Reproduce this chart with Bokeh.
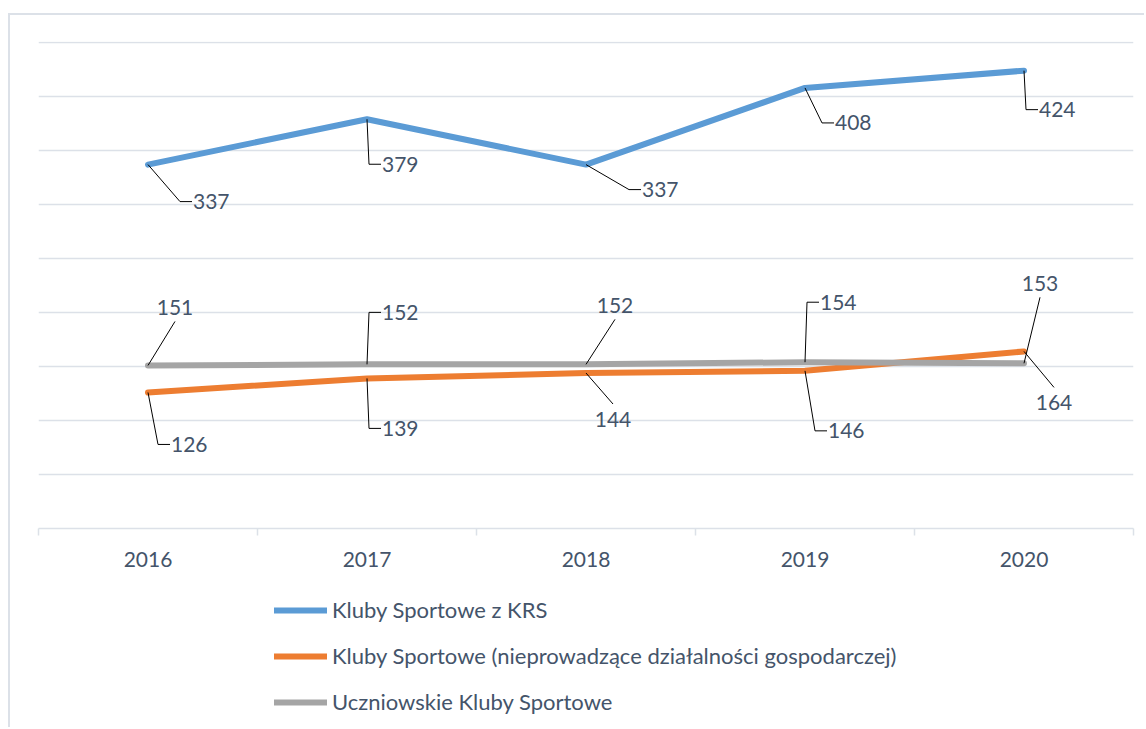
from bokeh.plotting import figure
from bokeh.layouts import column
from bokeh.models import FixedTicker, Legend, LegendItem, ColumnDataSource, Range1d
from bokeh.embed import file_html
from bokeh.resources import INLINE
from bokeh.core.properties import value

# ---- data ----
years = ["2016", "2017", "2018", "2019", "2020"]
krs = [337, 379, 337, 408, 424]
nieprow = [126, 139, 144, 146, 164]
uczniowskie = [151, 152, 152, 154, 153]
series_names = [
    "Kluby Sportowe z KRS",
    "Kluby Sportowe (nieprowadzące działalności gospodarczej)",
    "Uczniowskie Kluby Sportowe",
]
grid_values = [50, 100, 150, 200, 250, 300, 350, 400, 450]

# ---- style ----
colors = ["#5B9BD5", "#ED7D31", "#A5A5A5"]
TXT = "#44546A"
GRID = "#DCE1E8"
FONT = "Lato"
FS = "21px"
LEG_FS = "22px"

# label layout: elbow offsets in screen pixels (dx right, dy down) and mode
label_layout = [
    [(32, 37, "right"), (2, 45, "right"), (43, 25, "right"), (17, 35, "right"), (2, 39, "right")],
    [(10, 52, "right"), (2, 50, "right"), (27, 31, "below"), (10, 60, "right"), (30, 36, "below")],
    [(27, -44, "above"), (2, -52, "right"), (29, -45, "above"), (2, -60, "right"), (16, -66, "above")],
]

W = 1134
H1, H2 = 575, 137
ML, MR, MT = 28, 11, 26
FH = 487
MB = H1 - MT - FH
FW = W - ML - MR
YTOP = 451
XPX = FW / len(years)
YPX = FH / YTOP

p = figure(width=W, height=H1, x_range=Range1d(-0.5, len(years) - 0.5), y_range=Range1d(0, YTOP),
           output_backend="svg", toolbar_location=None,
           min_border_left=ML, min_border_right=MR, min_border_top=MT, min_border_bottom=MB)
p.outline_line_color = None
p.background_fill_color = "white"
p.border_fill_color = "white"

xs_idx = list(range(len(years)))
p.xaxis.ticker = FixedTicker(ticks=xs_idx, minor_ticks=[i - 0.5 for i in range(len(years) + 1)])
p.xaxis.major_label_overrides = {i: y for i, y in enumerate(years)}
p.xaxis.major_tick_out = 0
p.xaxis.major_tick_in = 0
p.xaxis.minor_tick_out = 7
p.xaxis.minor_tick_in = 0
p.xaxis.minor_tick_line_color = GRID
p.xaxis.minor_tick_line_width = 1.5
p.xaxis.axis_line_color = GRID
p.xaxis.axis_line_width = 1.5
p.xaxis.major_label_standoff = 16
p.xaxis.major_label_text_font = FONT
p.xaxis.major_label_text_font_size = FS
p.xaxis.major_label_text_color = TXT
p.xgrid.visible = False

p.yaxis.ticker = FixedTicker(ticks=grid_values)
p.yaxis.visible = False
p.ygrid.ticker = FixedTicker(ticks=grid_values)
p.ygrid.grid_line_color = GRID
p.ygrid.grid_line_width = 1.5

all_series = [krs, nieprow, uczniowskie]
for vals, c in zip(all_series, colors):
    p.line(xs_idx, vals, line_color=c, line_width=6, line_cap="round", line_join="round")

# data labels with leader lines
lx, ly, tx, ty, tt, ta = [], [], [], [], [], []
for vals, lay in zip(all_series, label_layout):
    for i, (v, (dx, dy, mode)) in enumerate(zip(vals, lay)):
        ex = i + dx / XPX
        ey = v - dy / YPX
        if mode == "right":
            lx.append([i, ex, ex + 12 / XPX]); ly.append([v, ey, ey])
            tx.append(ex + 13 / XPX); ty.append(ey); ta.append("left")
        elif mode == "above":
            lx.append([i, ex]); ly.append([v, ey])
            tx.append(ex); ty.append(ey + 14 / YPX); ta.append("center")
        else:
            lx.append([i, ex]); ly.append([v, ey])
            tx.append(ex); ty.append(ey - 15 / YPX); ta.append("center")
        tt.append(str(v))

p.multi_line(lx, ly, line_color="black", line_width=1)
src = ColumnDataSource(dict(x=tx, y=ty, text=tt, align=ta))
p.text(x="x", y="y", text="text", source=src, text_align="align", text_baseline="middle",
       text_font=value(FONT), text_font_size=FS, text_color=TXT)

# legend figure below the chart (its series lines lie outside its visible range)
p2 = figure(width=W, height=H2, x_range=Range1d(100, 101), y_range=Range1d(0, 1),
            output_backend="svg", toolbar_location=None, min_border=0)
p2.axis.visible = False
p2.grid.visible = False
p2.outline_line_color = None
p2.border_fill_color = "white"
leg_renderers = [p2.line(xs_idx, vals, line_color=c, line_width=6, line_cap="round")
                 for vals, c in zip(all_series, colors)]
legend = Legend(items=[LegendItem(label=n, renderers=[r]) for n, r in zip(series_names, leg_renderers)],
                location=(236, 12), orientation="vertical",
                glyph_width=53, glyph_height=20, label_height=20, spacing=19, label_standoff=5,
                padding=0, margin=0, border_line_color=None, background_fill_alpha=0,
                label_text_font=FONT, label_text_font_size=LEG_FS, label_text_color=TXT)
p2.add_layout(legend, "center")

layout = column(p, p2, spacing=0,
                styles={"margin": "13px 0px 0px 8px", "border-top": f"2px solid {GRID}",
                        "border-left": f"2px solid {GRID}"})

open("out.html", "w").write(file_html(layout, INLINE))
